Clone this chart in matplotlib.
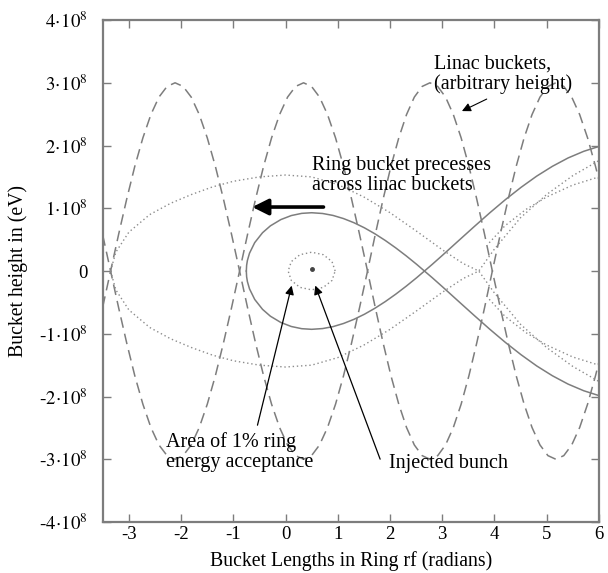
import matplotlib
matplotlib.use("Agg")
import matplotlib.pyplot as plt
from matplotlib.ticker import FuncFormatter

plt.rcParams["font.family"] = ["Liberation Serif", "DejaVu Serif"]
plt.rcParams["mathtext.fontset"] = "stix"
plt.rcParams["axes.unicode_minus"] = False

# all heights in units of 1e8 eV, lengths in ring rf radians
# linac bucket (dashed); the second linac curve is its mirror image
linac_x = [-3.5, -3.35, -3.196, -3.041, -2.887, -2.732, -2.578, -2.424, -2.269, -2.115,
           -1.961, -1.806, -1.652, -1.498, -1.343, -1.189, -1.034, -0.88,
           -0.727, -0.574, -0.421, -0.268, -0.114, 0.039, 0.192, 0.345,
           0.498, 0.651, 0.804, 0.958, 1.111, 1.264, 1.417, 1.57,
           1.719, 1.869, 2.018, 2.168, 2.317, 2.466, 2.616, 2.765,
           2.914, 3.064, 3.213, 3.363, 3.512, 3.661, 3.811, 3.96,
           4.112, 4.264, 4.416, 4.568, 4.72, 4.872, 5.024, 5.176,
           5.328, 5.48, 5.632, 5.784, 5.936, 6.0]
linac_y = [-0.57, 0, 0.585, 1.148, 1.667, 2.121, 2.494, 2.772, 2.942, 3.0,
           2.942, 2.772, 2.494, 2.121, 1.667, 1.148, 0.585, 0,
           -0.585, -1.148, -1.667, -2.121, -2.494, -2.772, -2.942, -3.0,
           -2.942, -2.772, -2.494, -2.121, -1.667, -1.148, -0.585, 0,
           0.585, 1.148, 1.667, 2.121, 2.494, 2.772, 2.942, 3.0,
           2.942, 2.772, 2.494, 2.121, 1.667, 1.148, 0.585, 0,
           -0.585, -1.148, -1.667, -2.121, -2.494, -2.772, -2.942, -3.0,
           -2.942, -2.772, -2.494, -2.121, -1.667, -1.453]

# ring bucket separatrix (solid), upper half; lower half is mirrored
ring_x = [-0.751, -0.745, -0.73, -0.69, -0.59, -0.44, -0.29, -0.09, 0.11, 0.31, 0.50,
          0.71, 0.91, 1.11, 1.31, 1.51, 1.71, 1.91, 2.11, 2.31, 2.51, 2.66,
          2.81, 3.01, 3.31, 3.61, 3.91, 4.21, 4.51, 4.81, 5.11, 5.41, 5.71, 6.0]
ring_y = [0, 0.092, 0.169, 0.284, 0.453, 0.611, 0.720, 0.820, 0.884, 0.919, 0.929,
          0.917, 0.886, 0.836, 0.770, 0.689, 0.594, 0.487, 0.369, 0.242, 0.107, 0,
          0.107, 0.255, 0.481, 0.706, 0.927, 1.138, 1.334, 1.513, 1.669, 1.802, 1.908, 1.985]

# larger ring bucket (dotted), upper half
big_x = [-3.35, -3.25, -3.0, -2.6, -2.2, -1.8, -1.4, -1.0, -0.5, 0.0, 0.5, 1.0, 1.5,
         2.0, 2.5, 3.0, 3.4, 3.7, 4.0, 4.5, 5.0, 5.5, 6.0]
big_y = [0, 0.3, 0.62, 0.9, 1.08, 1.22, 1.34, 1.43, 1.50, 1.53, 1.50, 1.38, 1.18,
         0.93, 0.64, 0.34, 0.12, 0, 0.35, 0.85, 1.22, 1.52, 1.76]
next_x = [3.9, 4.2, 4.6, 5.0, 5.5, 6.0]
next_y = [0.45, 0.72, 0.98, 1.18, 1.37, 1.50]

# 1% energy acceptance (dotted) and injected bunch
acc_x = [0.95, 0.89, 0.725, 0.5, 0.275, 0.11, 0.05, 0.11, 0.275, 0.5, 0.725, 0.89, 0.95]
acc_y = [0, 0.15, 0.26, 0.30, 0.26, 0.15, 0, -0.15, -0.26, -0.30, -0.26, -0.15, 0]
bunch_x = [0.5]
bunch_y = [0.04]

xticks = [-3, -2, -1, 0, 1, 2, 3, 4, 5, 6]
yticks = [-4, -3, -2, -1, 0, 1, 2, 3, 4]

fig = plt.figure(figsize=(6.08, 5.73), dpi=100)
ax = fig.add_axes([0.169, 0.089, 0.816, 0.876])

gray = "#7d7d7d"
dgray = "#8c8c8c"
dash = (0, (7, 4))
dot = (0, (1, 2))
ax.plot(linac_x, linac_y, ls=dash, color=gray, lw=1.1)
ax.plot(linac_x, [-v for v in linac_y], ls=dash, color=gray, lw=1.1)
ax.plot(ring_x, ring_y, color=gray, lw=1.1)
ax.plot(ring_x, [-v for v in ring_y], color=gray, lw=1.1)
ax.plot(big_x, big_y, ls=dot, color=dgray, lw=1.0)
ax.plot(big_x, [-v for v in big_y], ls=dot, color=dgray, lw=1.0)
ax.plot(next_x, next_y, ls=dot, color=dgray, lw=1.0)
ax.plot(next_x, [-v for v in next_y], ls=dot, color=dgray, lw=1.0)
ax.plot(acc_x, acc_y, ls=dot, color=dgray, lw=1.0)
ax.plot(bunch_x, bunch_y, "o", color="#444444", ms=2.5)

fs = 14.5
ax.annotate("", xy=(-0.69, 1.02), xytext=(0.78, 1.02),
            arrowprops=dict(arrowstyle="-|>", lw=2.6, color="black", mutation_scale=24))
ax.text(0.5, 1.52, "Ring bucket precesses\nacross linac buckets", fontsize=fs,
        va="center", ha="left", linespacing=1.05)
ax.annotate("", xy=(3.33, 2.53), xytext=(3.9, 2.76),
            arrowprops=dict(arrowstyle="-|>", lw=0.8, color="black", mutation_scale=13))
ax.text(2.85, 3.13, "Linac buckets,\n(arbitrary height)", fontsize=fs,
        va="center", ha="left", linespacing=1.05)
ax.annotate("", xy=(0.13, -0.19), xytext=(-0.55, -2.5),
            arrowprops=dict(arrowstyle="-|>", lw=0.9, color="black", mutation_scale=13))
ax.text(-2.28, -2.89, "Area of 1% ring\nenergy acceptance", fontsize=fs,
        va="center", ha="left", linespacing=1.05)
ax.annotate("", xy=(0.55, -0.19), xytext=(1.83, -3.04),
            arrowprops=dict(arrowstyle="-|>", lw=0.9, color="black", mutation_scale=13))
ax.text(1.99, -3.06, "Injected bunch", fontsize=fs, va="center", ha="left")

ax.set_xlim(-3.5, 6)
ax.set_ylim(-4, 4)
ax.set_xticks(xticks)
ax.set_yticks(yticks)


def ylab(v, pos):
    n = int(round(v))
    if n == 0:
        return "0"
    sign = "-" if n < 0 else ""
    return sign + r"$%d\!\cdot\!10^{8}$" % abs(n)


ax.yaxis.set_major_formatter(FuncFormatter(ylab))
ax.tick_params(direction="in", top=True, right=True, length=6, width=1.0,
               color=gray, labelsize=13.5)
ax.tick_params(axis="x", pad=3)
ax.tick_params(axis="y", pad=11)
for s in ax.spines.values():
    s.set_color(gray)
    s.set_linewidth(1.6)

ax.set_xlabel("Bucket Lengths in Ring rf (radians)", fontsize=14.2, labelpad=6)
ax.set_ylabel("Bucket height in (eV)", fontsize=14.2, va="center")
ax.yaxis.set_label_coords(-0.170, 0.5)

fig.savefig("out.png", dpi=100)
